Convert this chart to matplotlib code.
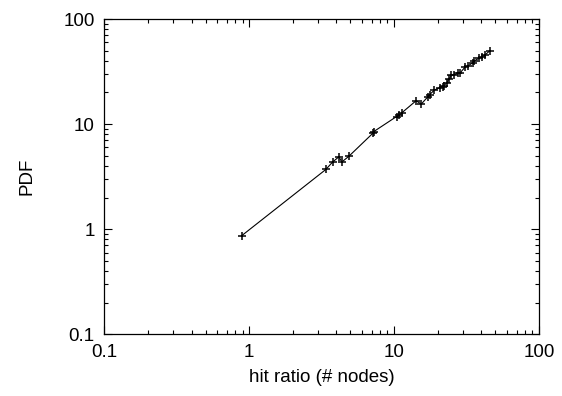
import matplotlib
matplotlib.use('Agg')
import matplotlib.pyplot as plt
from matplotlib.ticker import LogLocator, FixedLocator, FixedFormatter, NullFormatter

plt.rcParams.update({'font.family': 'Liberation Sans', 'font.size': 13.5})

# data
hit_ratio = [0.89, 3.38, 3.76, 4.17, 4.35, 4.88, 7.15, 7.25,
             10.4, 10.9, 11.3, 14.2, 15.4, 17.1, 17.6, 19.0, 20.6, 22.0,
             21.7, 23.1, 23.9, 24.9, 26.1, 27.5, 28.6, 31.1, 32.3,
             34.9, 35.9, 38.5, 40.6, 42.1, 45.6]
pdf = [0.87, 3.7, 4.35, 4.9, 4.35, 4.95, 8.2, 8.5,
       11.8, 12.2, 12.8, 16.7, 15.5, 18.2, 19.1, 21.1, 22.2, 23.2,
       22.7, 24.7, 26.8, 29.1, 29.5, 30.4, 30.8, 35.2, 35.7,
       38.4, 40.1, 42.3, 43.8, 45.1, 49.6]
decade_ticks = [0.1, 1, 10, 100]
decade_labels = ['0.1', '1', '10', '100']

fig = plt.figure(figsize=(5.62, 3.96), dpi=100)
ax = fig.add_axes([0.1856, 0.1558, 0.7734, 0.7962])
ax.plot(hit_ratio, pdf, color='black', lw=0.8, marker='+', ms=5.5, mew=1.1)

ax.set_xscale('log'); ax.set_yscale('log')
ax.set_xlim(0.1, 100); ax.set_ylim(0.1, 100)
for axis in (ax.xaxis, ax.yaxis):
    axis.set_major_locator(FixedLocator(decade_ticks))
    axis.set_major_formatter(FixedFormatter(decade_labels))
    axis.set_minor_locator(LogLocator(base=10, subs=range(2, 10)))
    axis.set_minor_formatter(NullFormatter())
ax.tick_params(which='both', direction='in', top=True, right=True, width=0.8)
ax.tick_params(which='major', length=6, pad=7)
ax.tick_params(which='minor', length=3)
for s in ax.spines.values():
    s.set_linewidth(0.9)

ax.set_xlabel('hit ratio (# nodes)', labelpad=6)
ax.set_ylabel('PDF', labelpad=20)

fig.savefig('out.png', dpi=100)
